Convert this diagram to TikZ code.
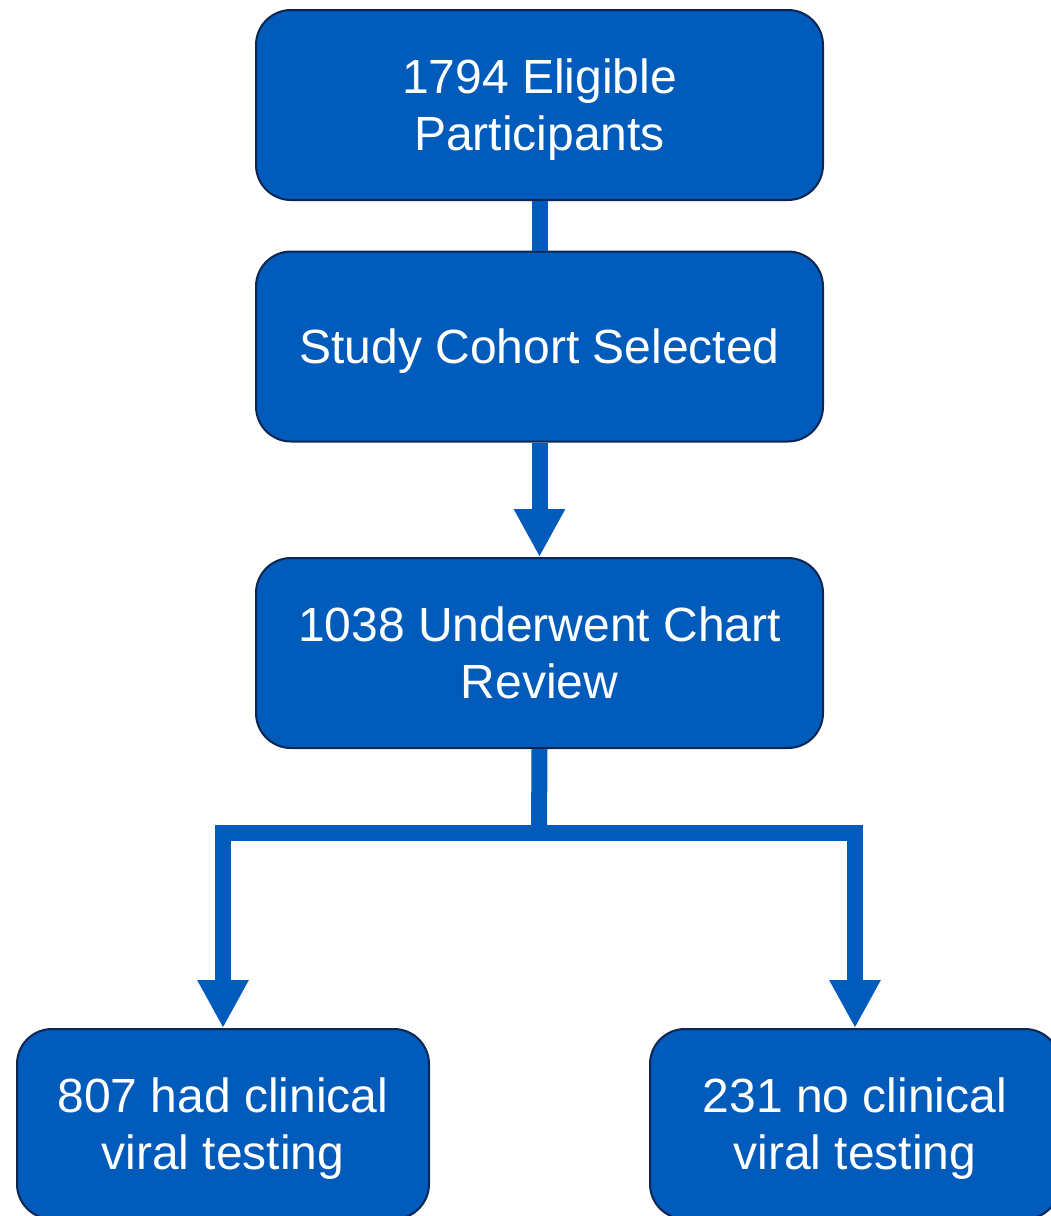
\documentclass[tikz,border=0pt]{standalone}
\usepackage{fontspec}
\setmainfont{Liberation Sans}
\usetikzlibrary{arrows.meta}
\definecolor{boxfill}{RGB}{0,91,187}
\definecolor{boxline}{RGB}{12,38,82}
\begin{document}
\begin{tikzpicture}[x=1pt,y=-1pt,
  box/.style={draw=boxline, line width=2pt, fill=boxfill, rounded corners=35pt,
    minimum height=190pt, text=white, align=center, inner sep=0pt,
    font=\fontsize{48}{57}\selectfont},
  conn/.style={draw=boxfill, line width=16pt},
  arr/.style={conn, line join=miter, -{Triangle[width=48pt,length=48pt]}}]
\useasboundingbox (0,0) rectangle (1051,1216);
\clip (0,0) rectangle (1051,1216);
\node[box, minimum width=567pt] (n1) at (539.5,105) {1794 Eligible\\\smash{Participants}};
\node[box, minimum width=567pt, text depth=0pt] (n2) at (539.5,346.5) {Study Cohort Selected};
\node[box, minimum width=567pt] (n3) at (539.5,653) {1038 Underwent Chart\\\smash{Review}};
\node[box, minimum width=412pt] (n4) at (223,1124) {807 had clinical\\\smash{viral testing}};
\node[box, minimum width=410pt] (n5) at (855,1124) {231 no clinical\\\smash{viral testing}};
\coordinate (split) at (539,833);
\draw[conn] (n1.south) -- (n2.north);
\draw[arr] (n2.south) -- (n3.north);
\draw[conn] (n3.south) -- (split);
\draw[arr] (split) -| (n4.north);
\draw[arr] (split) -| (n5.north);
\end{tikzpicture}
\end{document}
